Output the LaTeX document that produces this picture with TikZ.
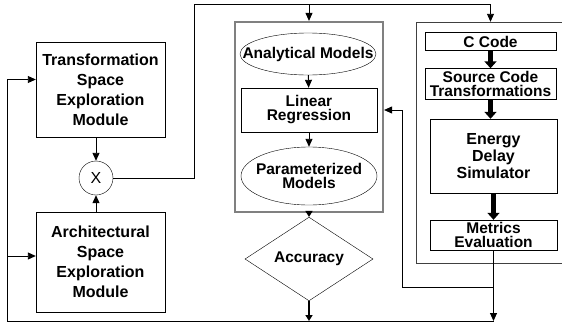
\documentclass[tikz,border=0pt]{standalone}
\usepackage{fontspec}
\setmainfont{Liberation Sans}
\usetikzlibrary{arrows.meta, shapes.geometric}

\begin{document}
\begin{tikzpicture}[
        x=1pt, y=-1pt,
        font=\bfseries\fontsize{15.5}{14}\selectfont,
        box/.style={draw, align=center, inner sep=0pt},
        oval/.style={draw, ellipse, align=center, inner sep=0pt, minimum width=136pt},
        arr/.style={-{Triangle[length=8pt,width=7pt]}, line width=0.9pt},
        fatarr/.style={-{Triangle[length=7pt,width=12pt]}, line width=5.5pt},
        midarr/.style={-{Triangle[length=6pt,width=7pt]}, line width=2.5pt}
    ]
    \path[use as bounding box, clip] (0,0) rectangle (562,327);

    % exploration modules
    \node[box, minimum width=129pt, minimum height=95pt, font=\bfseries\fontsize{16}{20}\selectfont] (trans) at (100.5,89.5) {Transformation\\Space\\Exploration\\Module};
    \node[box, minimum width=129pt, minimum height=100pt, font=\bfseries\fontsize{16}{20}\selectfont] (arch) at (100.5,262) {Architectural\\Space\\Exploration\\Module};
    \node[draw, circle, minimum size=34pt, inner sep=0pt, font=\fontsize{16}{16}\selectfont] (mult) at (96,178) {X};

    % models
    \node[draw=gray, line width=2.2pt, minimum width=148pt, minimum height=190pt] (models) at (309,117) {};
    \node[oval, minimum height=42pt] (ana) at (308,54) {\makebox[0pt]{Analytical Models}};
    \node[box, minimum width=136pt, minimum height=44pt] (linreg) at (309,110) {Linear\\Regression};
    \node[oval, minimum height=58pt] (param) at (309,176) {\makebox[0pt]{Parameterized}\\\makebox[0pt]{Models}};
    \node[draw, diamond, inner sep=0pt, minimum width=128pt, minimum height=68pt] (acc) at (309,259) {Accuracy};

    % simulation chain
    \node[draw=black!75, minimum width=184pt, minimum height=241pt] (simbox) at (508,142.5) {};
    \node[box, minimum width=131pt, minimum height=18pt] (ccode) at (490.5,41.5) {C Code};
    \node[box, minimum width=131pt, minimum height=31pt] (srcxf) at (490.5,84) {Source Code\\Transformations};
    \node[box, minimum width=127pt, minimum height=74pt, font=\bfseries\fontsize{16}{17}\selectfont] (energy) at (493.5,156) {Energy\\Delay\\Simulator};
    \node[box, minimum width=127pt, minimum height=30pt] (metrics) at (493.5,235) {Metrics\\Evaluation};

    \coordinate (top) at (194,4);
    \coordinate (ret) at (402,287);
    \coordinate (lft) at (7,321);
    \coordinate (fb) at (metrics.south |- lft);

    \draw[arr] (mult.north |- trans.south) -- (mult.north);
    \draw[arr] (mult.south |- arch.north) -- (mult.south);
    \draw[arr] (mult.east) -| (top) -| (ccode.north |- simbox.north);
    \draw[arr] (models.north |- top) -- (models.north);

    \draw[arr] (ana) -- (linreg);
    \draw[arr] (linreg) -- (param);
    \draw[midarr] (models.south) -- (acc.north);
    \draw[midarr] (acc.south) -- (acc.south |- fb);

    \draw[fatarr] (ccode) -- (srcxf);
    \draw[fatarr] (srcxf.south) -- (srcxf.south |- energy.north);
    \draw[fatarr] (energy) -- (metrics);

    % feedback
    \draw[arr] (metrics.south) -- (fb);
    \draw[arr] (metrics.south |- ret) -- (ret) |- (linreg.east -| models.east);
    \draw (fb) -- (lft);
    \draw[arr] (lft) |- ([yshift=10pt]trans.west);
    \draw[arr] (lft) |- ([yshift=6pt]arch.west);
\end{tikzpicture}
\end{document}
